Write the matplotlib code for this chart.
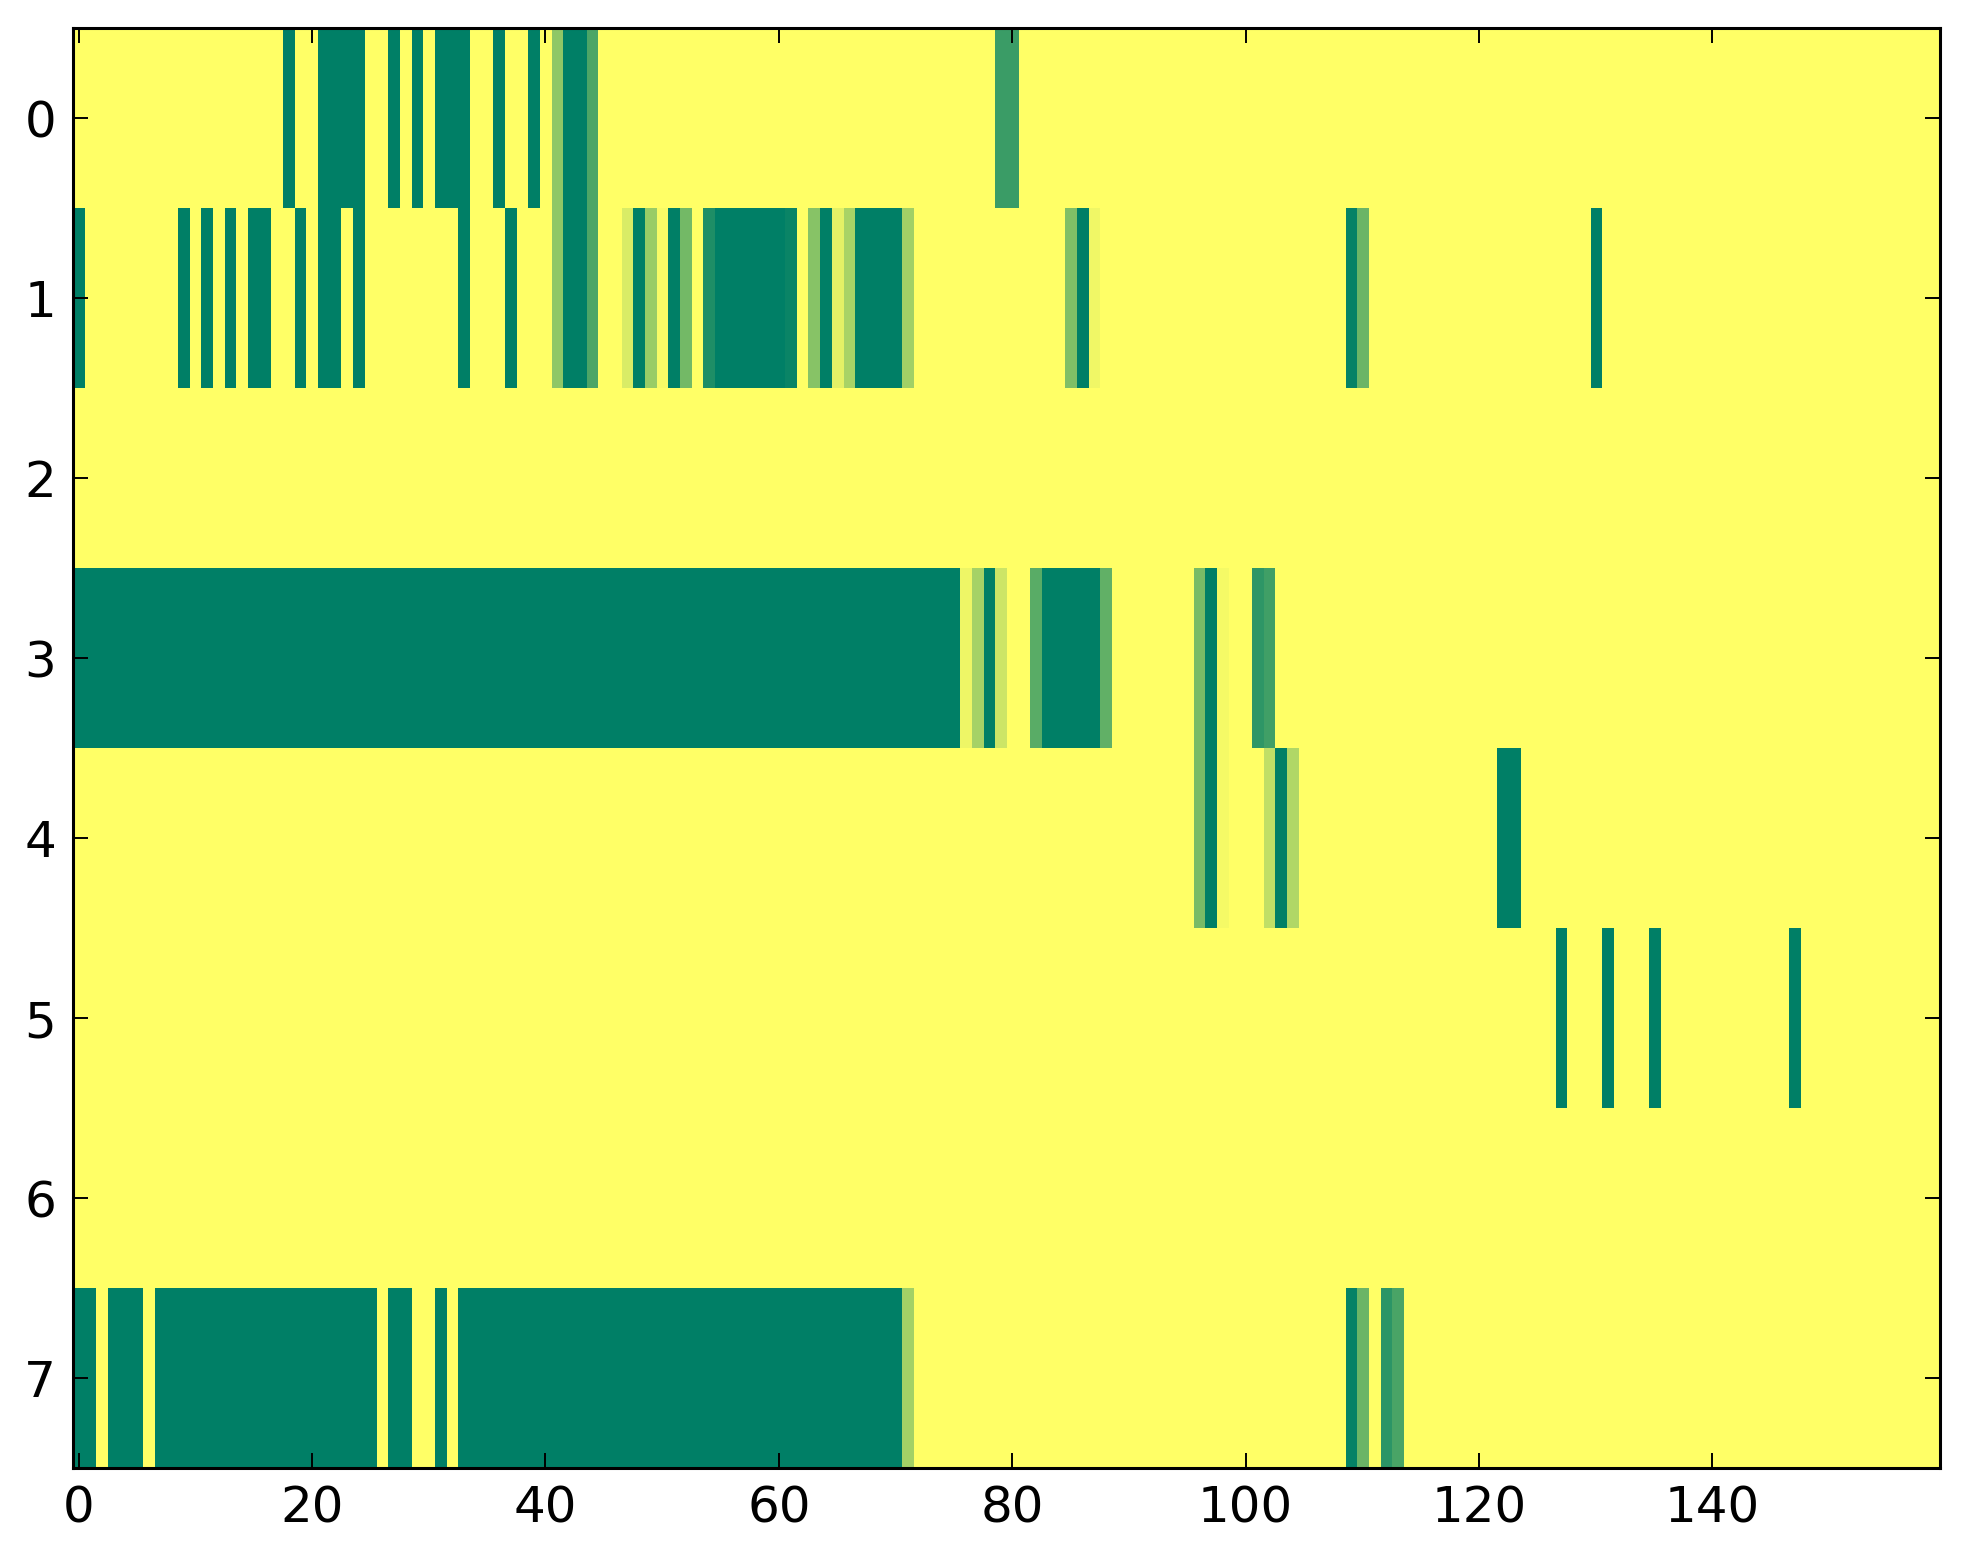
import numpy as np
import matplotlib
matplotlib.use("Agg")
import matplotlib.pyplot as plt

# image is n_rows x n_cols, 1.0 (yellow) where nothing is marked
n_rows = 8
n_cols = 160
background = 1.0

# runs of cells per row: (first col, last col, value)
row0 = [(18, 18, 0), (21, 24, 0), (27, 27, 0), (29, 29, 0), (31, 33, 0),
        (36, 36, 0), (39, 39, 0), (41, 41, 0.56), (42, 43, 0), (44, 44, 0.3),
        (79, 80, 0.23)]
row1 = [(0, 0, 0), (9, 9, 0), (11, 11, 0), (13, 13, 0), (15, 16, 0),
        (19, 19, 0), (21, 22, 0), (24, 24, 0), (33, 33, 0), (37, 37, 0),
        (41, 41, 0.56), (42, 43, 0), (44, 44, 0.3), (47, 47, 0.85), (48, 48, 0),
        (49, 49, 0.6), (50, 50, 0.97), (51, 51, 0), (52, 52, 0.45),
        (54, 54, 0.12), (55, 60, 0), (61, 61, 0.04), (63, 63, 0.53),
        (64, 64, 0), (65, 65, 0.89), (66, 66, 0.66), (67, 70, 0),
        (71, 71, 0.63), (85, 85, 0.5), (86, 86, 0), (87, 87, 0.94),
        (109, 109, 0.02), (110, 110, 0.42), (130, 130, 0)]
row2 = []
row3 = [(0, 75, 0), (76, 76, 0.93), (77, 77, 0.65), (78, 78, 0), (79, 79, 0.8),
        (82, 82, 0.35), (83, 87, 0), (88, 88, 0.38), (96, 96, 0.47), (97, 97, 0),
        (98, 98, 0.96), (101, 101, 0.18), (102, 102, 0.25)]
row4 = [(96, 96, 0.47), (97, 97, 0), (98, 98, 0.96), (102, 102, 0.75),
        (103, 103, 0), (104, 104, 0.69), (122, 123, 0)]
row5 = [(127, 127, 0), (131, 131, 0), (135, 135, 0), (147, 147, 0)]
row6 = []
row7 = [(0, 1, 0), (3, 5, 0), (7, 25, 0), (27, 28, 0), (31, 31, 0), (33, 70, 0),
        (71, 71, 0.64), (109, 109, 0.02), (110, 110, 0.42), (112, 112, 0.17),
        (113, 113, 0.29)]

rows = [row0, row1, row2, row3, row4, row5, row6, row7]

data = np.full((n_rows, n_cols), background)
for r, runs in enumerate(rows):
    for a, b, v in runs:
        data[r, a:b + 1] = v

xticks = [0, 20, 40, 60, 80, 100, 120, 140]
yticks = list(range(n_rows))

plt.rcParams['font.family'] = 'DejaVu Sans'
fig = plt.figure(figsize=(9.815, 7.82), dpi=200)
ax = fig.add_axes([0.0371, 0.0614, 0.9512, 0.9206])
ax.imshow(data, cmap='summer', vmin=0, vmax=1, interpolation='nearest', aspect='auto')

ax.set_xticks(xticks)
ax.set_yticks(yticks)
ax.tick_params(direction='in', length=5.4, width=0.7, top=True, right=True,
               labelsize=18, pad=6)
for s in ax.spines.values():
    s.set_linewidth(1.1)

fig.savefig('out.png', dpi=200)
